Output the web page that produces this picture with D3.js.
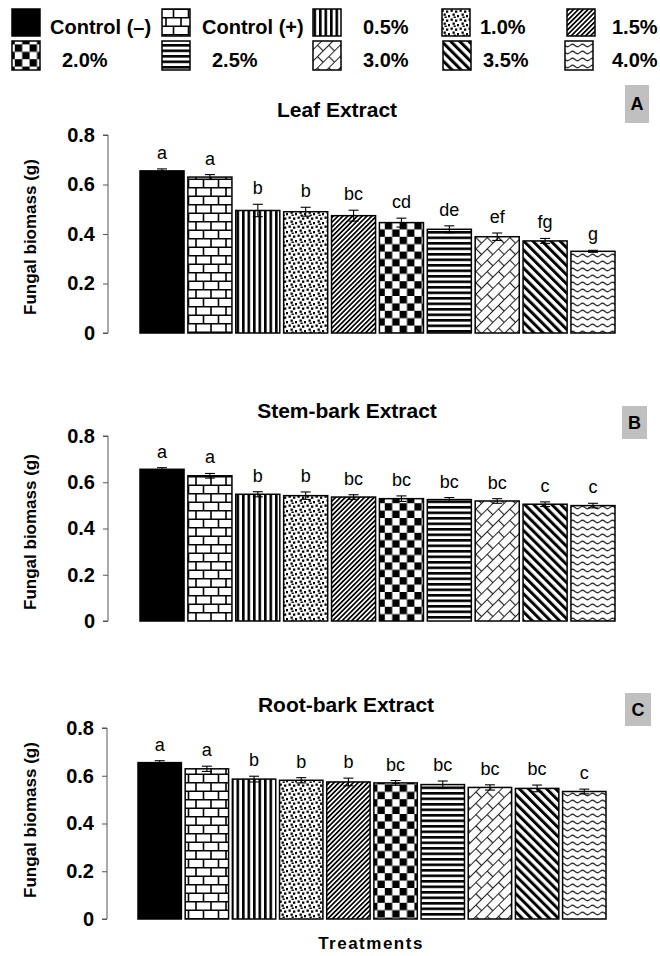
<!DOCTYPE html>
<html>
<head>
<meta charset="utf-8">
<script src="https://cdn.jsdelivr.net/npm/d3@7"></script>
<style>
  body { margin: 0; background: #fff; }
  svg { display: block; font-family: "Liberation Sans", Arial, sans-serif; }
</style>
</head>
<body>
<svg id="chart" width="660" height="956"></svg>
<script>
// Treatments and values
const treatments = ["Control (–)", "Control (+)", "0.5%", "1.0%", "1.5%", "2.0%", "2.5%", "3.0%", "3.5%", "4.0%"];

const leafMean = [0.655, 0.630, 0.495, 0.490, 0.474, 0.446, 0.419, 0.389, 0.372, 0.330];
const leafErr = [0.008, 0.010, 0.025, 0.018, 0.022, 0.018, 0.014, 0.015, 0.010, 0.004];
const leafLetters = ["a", "a", "b", "b", "bc", "cd", "de", "ef", "fg", "g"];

const stemMean = [0.656, 0.628, 0.548, 0.542, 0.536, 0.529, 0.525, 0.519, 0.505, 0.499];
const stemErr = [0.007, 0.010, 0.011, 0.016, 0.010, 0.012, 0.009, 0.010, 0.010, 0.010];
const stemLetters = ["a", "a", "b", "b", "bc", "bc", "bc", "bc", "c", "c"];

const rootMean = [0.655, 0.629, 0.586, 0.581, 0.574, 0.570, 0.563, 0.551, 0.547, 0.534];
const rootErr = [0.008, 0.011, 0.012, 0.011, 0.016, 0.010, 0.015, 0.011, 0.014, 0.010];
const rootLetters = ["a", "a", "b", "b", "b", "bc", "bc", "bc", "bc", "c"];

const yTicks = [0, 0.2, 0.4, 0.6, 0.8];

const svg = d3.select('#chart');
const defs = svg.append('defs');

// ---- fill patterns, one per treatment ----
function pattern(id, w, h, transform) {
    const p = defs.append('pattern')
        .attr('id', id)
        .attr('patternUnits', 'userSpaceOnUse')
        .attr('width', w)
        .attr('height', h);
    if (transform) p.attr('patternTransform', transform);
    p.append('rect').attr('width', w).attr('height', h).attr('fill', '#fff');
    return p;
}

// brick
let p = pattern('p1', 30, 17);
p.append('path')
    .attr('d', 'M0,0.75H30M0,9.25H30M1,0V9M16,0V9M8.5,9V17M23.5,9V17')
    .attr('stroke', '#000').attr('stroke-width', 1.6).attr('fill', 'none');
// vertical stripes
p = pattern('p2', 5.5, 10);
p.append('rect').attr('width', 2.6).attr('height', 10).attr('fill', '#000');
// dots
p = pattern('p3', 9, 9);
[[0.5, 0.5], [5, 1.5], [2.5, 4.5], [7, 6], [3.5, 7.5]].forEach(d => {
    p.append('rect').attr('x', d[0]).attr('y', d[1]).attr('width', 2.3).attr('height', 2.3).attr('fill', '#000');
});
// fine diagonal /
p = pattern('p4', 3.4, 10, 'rotate(45)');
p.append('rect').attr('width', 1.7).attr('height', 10).attr('fill', '#000');
// checkerboard
p = pattern('p5', 14.8, 14.8);
p.append('rect').attr('width', 7.4).attr('height', 7.4).attr('fill', '#000');
p.append('rect').attr('x', 7.4).attr('y', 7.4).attr('width', 7.4).attr('height', 7.4).attr('fill', '#000');
// horizontal stripes
p = pattern('p6', 10, 5.5);
p.append('rect').attr('width', 10).attr('height', 2.6).attr('fill', '#000');
// diagonal brick (weave)
p = pattern('p7', 16, 16, 'rotate(-45)');
p.append('path')
    .attr('d', 'M0,0.5H16M0,8.5H16M0.5,0V8M8.5,8V16')
    .attr('stroke', '#222').attr('stroke-width', 1.2).attr('fill', 'none');
// wide diagonal \
p = pattern('p8', 6.4, 10, 'rotate(-45)');
p.append('rect').attr('width', 3).attr('height', 10).attr('fill', '#000');
// wavy
p = pattern('p9', 10, 7);
p.append('path')
    .attr('d', 'M0,3.5 Q2.5,1 5,3.5 T10,3.5')
    .attr('stroke', '#333').attr('stroke-width', 1.2).attr('fill', 'none');

const fills = ['#000'].concat(d3.range(1, 10).map(i => `url(#p${i})`));

// ---- legend ----
const legRows = [[0, 1, 2, 3, 4], [5, 6, 7, 8, 9]];
const legSwX = [[12, 162, 313, 442, 567], [12, 162, 313, 443, 565]];
const legTxtX = [[50, 202, 363, 480, 612], [62, 212, 363, 483, 612]];
const legSwY = [9, 41];
const legSwH = [27, 29];
const legTxtY = [34, 67];

const legend = svg.append('g');
legRows.forEach((row, r) => {
    row.forEach((t, k) => {
        legend.append('rect')
            .attr('x', legSwX[r][k]).attr('y', legSwY[r])
            .attr('width', 28).attr('height', legSwH[r])
            .attr('fill', fills[t])
            .attr('stroke', '#000').attr('stroke-width', 1.5);
        legend.append('text')
            .attr('x', legTxtX[r][k]).attr('y', legTxtY[r])
            .style('font-size', '20px').style('font-weight', 'bold')
            .text(treatments[t]);
    });
});

// ---- panels ----
const panels = [
    { title: 'Leaf Extract', tag: 'A', mean: leafMean, err: leafErr, letters: leafLetters,
      top: 135, bottom: 333, left: 140, right: 615, axisX: 108,
      titleX: 337, titleY: 117, box: [625, 85, 24, 38], labelY: 237 },
    { title: 'Stem-bark Extract', tag: 'B', mean: stemMean, err: stemErr, letters: stemLetters,
      top: 436, bottom: 621, left: 140, right: 615, axisX: 108,
      titleX: 347, titleY: 418, box: [622, 406, 25, 33], labelY: 532 },
    { title: 'Root-bark Extract', tag: 'C', mean: rootMean, err: rootErr, letters: rootLetters,
      top: 728, bottom: 919, left: 138, right: 606, axisX: 107,
      titleX: 346, titleY: 712, box: [625, 693, 26, 33], labelY: 820 }
];

panels.forEach(pn => {
    const g = svg.append('g');

    const x = d3.scaleBand()
        .domain(treatments)
        .range([pn.left, pn.right])
        .paddingInner(0.08)
        .paddingOuter(0);

    const y = d3.scaleLinear()
        .domain([0, 0.8])
        .range([pn.bottom, pn.top]);

    // Y axis
    const axis = g.append('g')
        .attr('transform', `translate(${pn.axisX},0)`)
        .call(d3.axisLeft(y)
            .tickValues(yTicks)
            .tickSize(5)
            .tickPadding(8)
            .tickFormat(d => d === 0 ? '0' : d.toFixed(1)));
    axis.select('.domain').attr('stroke', '#555').attr('d', `M-5,${pn.top}H0V${pn.bottom}H-5`);
    axis.selectAll('.tick line').attr('stroke', '#555');
    axis.selectAll('.tick text')
        .style('font-family', '"Liberation Sans", Arial, sans-serif')
        .style('font-size', '20px')
        .style('font-weight', 'bold')
        .attr('fill', '#000');

    // Bars
    g.selectAll('rect.bar')
        .data(pn.mean)
        .join('rect')
        .attr('class', 'bar')
        .attr('x', (d, i) => x(treatments[i]))
        .attr('y', d => y(d))
        .attr('width', x.bandwidth())
        .attr('height', d => y(0) - y(d))
        .attr('fill', (d, i) => fills[i])
        .attr('stroke', '#000')
        .attr('stroke-width', 1.5);

    // Error bars
    const cx = i => x(treatments[i]) + x.bandwidth() / 2;
    const eb = g.selectAll('g.err')
        .data(pn.mean)
        .join('g')
        .attr('class', 'err')
        .attr('stroke', '#000')
        .attr('stroke-width', 1.1);
    eb.append('line')
        .attr('x1', (d, i) => cx(i)).attr('x2', (d, i) => cx(i))
        .attr('y1', (d, i) => y(d - pn.err[i])).attr('y2', (d, i) => y(d + pn.err[i]));
    eb.append('line')
        .attr('x1', (d, i) => cx(i) - 5).attr('x2', (d, i) => cx(i) + 5)
        .attr('y1', (d, i) => y(d + pn.err[i])).attr('y2', (d, i) => y(d + pn.err[i]));
    eb.append('line')
        .attr('x1', (d, i) => cx(i) - 5).attr('x2', (d, i) => cx(i) + 5)
        .attr('y1', (d, i) => y(d - pn.err[i])).attr('y2', (d, i) => y(d - pn.err[i]));

    // Significance letters
    g.selectAll('text.sig')
        .data(pn.letters)
        .join('text')
        .attr('class', 'sig')
        .attr('x', (d, i) => cx(i))
        .attr('y', (d, i) => y(pn.mean[i] + pn.err[i]) - 10)
        .attr('text-anchor', 'middle')
        .style('font-size', '18px')
        .text(d => d);

    // Title
    g.append('text')
        .attr('x', pn.titleX).attr('y', pn.titleY)
        .attr('text-anchor', 'middle')
        .style('font-size', '21px').style('font-weight', 'bold')
        .text(pn.title);

    // Panel tag
    g.append('rect')
        .attr('x', pn.box[0]).attr('y', pn.box[1])
        .attr('width', pn.box[2]).attr('height', pn.box[3])
        .attr('fill', '#c0c0c0');
    g.append('text')
        .attr('x', pn.box[0] + pn.box[2] / 2)
        .attr('y', pn.box[1] + pn.box[3] / 2)
        .attr('dy', '0.36em')
        .attr('text-anchor', 'middle')
        .style('font-size', '18px').style('font-weight', 'bold')
        .text(pn.tag);

    // Y label
    g.append('text')
        .attr('transform', `translate(36,${pn.labelY}) rotate(-90)`)
        .attr('text-anchor', 'middle')
        .style('font-size', '17px').style('font-weight', 'bold')
        .text('Fungal biomass (g)');
});

// X label
svg.append('text')
    .attr('x', 371).attr('y', 949)
    .attr('text-anchor', 'middle')
    .style('font-size', '17px').style('font-weight', 'bold')
    .style('letter-spacing', '1.5px')
    .text('Treatments');
</script>
</body>
</html>
